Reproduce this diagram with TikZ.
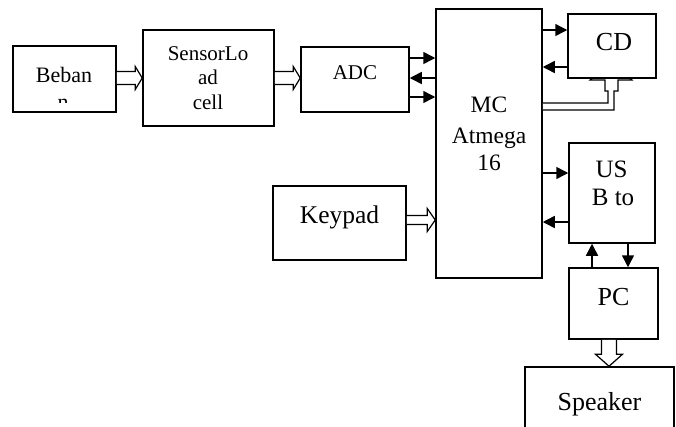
\documentclass[tikz,border=0pt]{standalone}
\usepackage{fontspec}
\setmainfont{Liberation Serif}
\usetikzlibrary{arrows.meta,calc}
\tikzset{
  box/.style={draw, line width=1.5pt, fill=white, inner sep=0pt},
  sarrow/.style={line width=1.5pt, -{Triangle[length=12pt,width=12pt]}},
  harrow/.style={draw, fill=white, line width=1.2pt, line join=miter},
  lbl/.style={anchor=base, inner sep=0pt},
}
\newcommand\fsz[1]{\fontsize{#1}{#1}\selectfont}
% hollow block arrow pointing right: start, end, shaft half, head half, head length
\newcommand\hollowR[5]{%
  \path[harrow] let \p1=(#1), \p2=(#2) in
    (\x1,\y1+#3) -- (\x2-#5,\y1+#3) -- (\x2-#5,\y1+#4) -- (\x2,\y1)
    -- (\x2-#5,\y1-#4) -- (\x2-#5,\y1-#3) -- (\x1,\y1-#3);}
% hollow block arrow pointing down
\newcommand\hollowD[5]{%
  \path[harrow] let \p1=(#1), \p2=(#2) in
    (\x1-#3,\y1) -- (\x1-#3,\y2+#5) -- (\x1-#4,\y2+#5) -- (\x1,\y2)
    -- (\x1+#4,\y2+#5) -- (\x1+#3,\y2+#5) -- (\x1+#3,\y1);}
\begin{document}
\begin{tikzpicture}[x=1pt,y=-1pt]
\useasboundingbox (0,0) rectangle (676,426);
\fill[white] (0,0) rectangle (676,426);

% boxes
\node[box, minimum width=103pt, minimum height=66pt] (beban) at (64.5,79) {};
\node[box, minimum width=131pt, minimum height=96pt] (sensor) at (208.5,78) {};
\node[box, minimum width=108pt, minimum height=65pt] (adc) at (355,79.5) {};
\node[box, minimum width=106pt, minimum height=269pt] (mc) at (489,143.5) {};
\node[box, minimum width=133pt, minimum height=74pt] (keypad) at (339.5,223) {};
\node[box, minimum width=86pt, minimum height=100pt] (usb) at (612,193) {};
\node[box, minimum width=89pt, minimum height=71pt] (pc) at (613.5,303.5) {};
\node[box, minimum width=149pt, minimum height=73pt] (speaker) at (599.5,403.5) {};

% double-line hollow arrow MC -> CD (drawn before CD so the box covers its tip)
\path[harrow, line width=1.1pt] (mc.east |- 0,103) -- (608,103) -- (608,91) -- (605,91)
  -- (605,80) -- (590,80) -- (611,62) -- (632,80) -- (618,80) -- (618,91)
  -- (614,91) -- (614,110) -- (mc.east |- 0,110);
\node[box, minimum width=88pt, minimum height=64pt] (cd) at (612,46) {};

% texts
\begin{scope}
  \clip (13,46) rectangle (116,102);
  \node[lbl, font=\fsz{22}] (tbeban) at (64,82) {Beban};
  \node[lbl, font=\fsz{22}] (tbeban2) at (63,109) {n};
\end{scope}
\node[lbl, font=\fsz{21}] (ts1) at (208,60.5) {SensorLo};
\node[lbl, font=\fsz{21}] (ts2) at (208,84.5) {ad};
\node[lbl, font=\fsz{21}] (ts3) at (208,109) {cell};
\node[lbl, font=\fsz{21}] (tadc) at (355,79) {ADC};
\node[lbl, font=\fsz{23.5}] (tmc1) at (489,112) {MC};
\node[lbl, font=\fsz{23.5}] (tmc2) at (489,143) {Atmega};
\node[lbl, font=\fsz{23.5}] (tmc3) at (489,170) {16};
\node[lbl, font=\fsz{26}] (tcd) at (614,50) {CD};
\node[lbl, font=\fsz{25.5}] (tkey) at (339.5,223) {Keypad};
\node[lbl, font=\fsz{25}] (tusb1) at (611.5,177) {US};
\node[lbl, font=\fsz{25}] (tusb2) at (613,205) {B to};
\node[lbl, font=\fsz{26}] (tpc) at (613.5,305) {PC};
\node[lbl, font=\fsz{26}] (tspk) at (599.5,410) {Speaker};

% hollow arrows
\hollowR{beban.east |- 0,78}{sensor.west |- 0,78}{6.5pt}{11.5pt}{7pt}
\hollowR{sensor.east |- 0,78}{adc.west |- 0,78}{6.5pt}{11.5pt}{7pt}
\hollowR{keypad.east |- 0,220}{mc.west |- 0,220}{4.5pt}{11.5pt}{8pt}
\hollowD{pc.south -| 609,0}{speaker.north -| 609,0}{7.5pt}{13.5pt}{12pt}

% solid arrows
\draw[sarrow] (adc.east |- 0,58) -- (mc.west |- 0,58);
\draw[sarrow] (mc.west |- 0,78) -- (adc.east |- 0,78);
\draw[sarrow] (adc.east |- 0,97) -- (mc.west |- 0,97);
\draw[sarrow] (mc.east |- 0,30) -- (cd.west |- 0,30);
\draw[sarrow] (cd.west |- 0,67) -- (mc.east |- 0,67);
\draw[sarrow] (mc.east |- 0,173) -- (usb.west |- 0,173);
\draw[sarrow] (usb.west |- 0,222) -- (mc.east |- 0,222);
\draw[sarrow] (pc.north -| 592,0) -- (usb.south -| 592,0);
\draw[sarrow] (usb.south -| 628,0) -- (pc.north -| 628,0);
\end{tikzpicture}
\end{document}
